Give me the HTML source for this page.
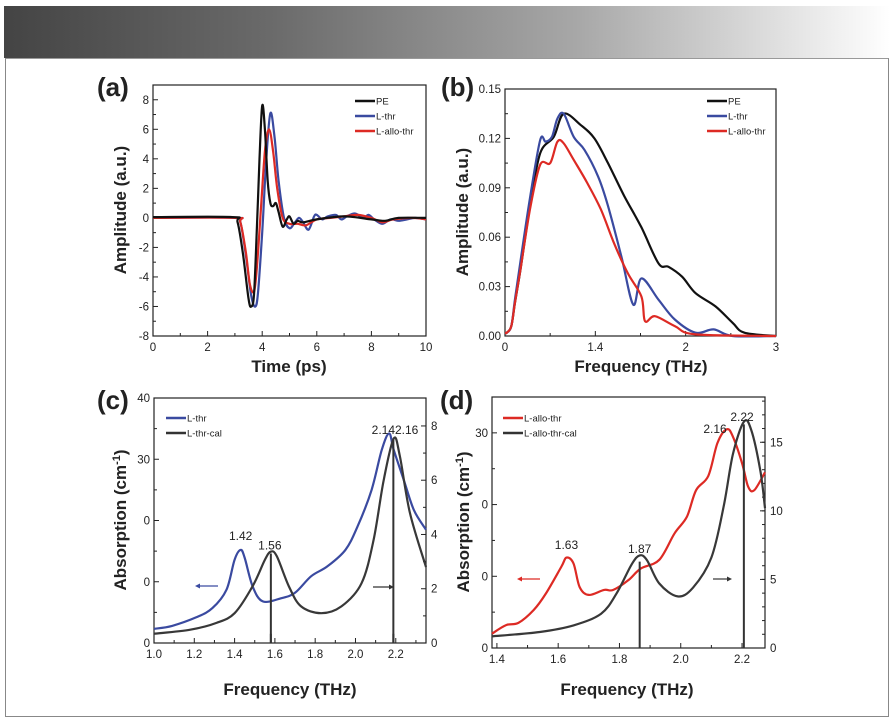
<!DOCTYPE html>
<html><head><meta charset="utf-8"><style>
body{margin:0;background:#fff;width:896px;height:724px;overflow:hidden;font-family:"Liberation Sans",sans-serif}
#hdr{position:absolute;left:4px;top:6px;width:886px;height:52px;background:linear-gradient(90deg,#444 0%,#6a6a6a 30%,#a8a8a8 65%,#fff 100%)}
#frame{position:absolute;left:5px;top:58px;width:882px;height:657px;border:1px solid #888;border-top:1px solid #999}
svg{position:absolute;left:0;top:0}
</style></head><body>
<div id="hdr"></div>
<div id="frame"></div>
<svg id="fig" width="896" height="724"></svg>
<script>
// ---- Panel (a) data ----
const aPE_t=[0,2.9,3.1,3.3,3.5,3.6,3.7,3.8,3.9,4.0,4.1,4.2,4.3,4.4,4.5,4.6,4.75,4.9,5.0,5.15,5.3,5.5,6,7,8,8.5,9,10];
const aPE_v=[0.05,0.05,-0.3,-2.5,-5.5,-6,-5.2,-1,4,7.6,6,2.5,1,0.8,1.0,0.4,-0.6,-0.1,0.1,-0.4,-0.2,-0.3,-0.1,0.1,-0.1,-0.2,0,0];
const aLT_t=[0,3.0,3.2,3.4,3.6,3.75,3.85,4.0,4.15,4.3,4.45,4.6,4.8,5.0,5.2,5.35,5.5,5.7,5.9,6.0,6.2,6.4,6.7,6.9,7.1,7.4,7.7,7.9,8.1,8.4,8.7,9.0,9.3,9.6,10];
const aLT_v=[0,0,-0.3,-2.5,-5.3,-6,-5,-1,4,7.1,5.5,2.5,0,-0.7,-0.3,0,-0.3,-0.8,0.1,0.2,-0.1,0.1,0.2,-0.1,0.1,0.3,0,0.2,-0.1,-0.4,-0.1,-0.2,-0.1,0,-0.1];
const aLA_t=[0,3.0,3.2,3.4,3.55,3.7,3.8,3.95,4.1,4.25,4.4,4.55,4.75,5.0,5.3,5.6,6.0,6.5,7.0,7.5,8.0,8.4,8.8,9.5,10];
const aLA_v=[0,0,-0.3,-2.3,-4.5,-5,-3.5,0.5,4.5,6,4.5,2,0,-0.4,-0.4,-0.5,-0.1,0,0.1,0.2,0,-0.3,-0.1,0,-0.1];
const aYTicks=[-8,-6,-4,-2,0,2,4,6,8];
const aXTicks=[0,2,4,6,8,10];
// ---- Panel (b) data ----
const bPE_f=[0,0.02,0.07,0.11,0.17,0.28,0.39,0.54,0.65,0.84,0.99,1.14,1.32,1.51,1.70,1.81,1.96,2.11,2.33,2.52,2.65,3.0];
const bPE_v=[0.002,0.002,0.006,0.02,0.04,0.08,0.111,0.121,0.135,0.128,0.120,0.105,0.085,0.066,0.044,0.042,0.036,0.026,0.018,0.008,0.002,0];
const bLT_f=[0,0.02,0.07,0.11,0.17,0.28,0.39,0.45,0.52,0.58,0.65,0.76,0.88,1.03,1.14,1.29,1.42,1.51,1.70,1.88,2.11,2.31,2.52,3.0];
const bLT_v=[0.002,0.002,0.006,0.022,0.045,0.085,0.119,0.118,0.121,0.132,0.135,0.121,0.113,0.097,0.079,0.048,0.019,0.035,0.022,0.010,0.002,0.004,0,0];
const bLA_f=[0,0.02,0.07,0.11,0.17,0.28,0.39,0.50,0.58,0.65,0.76,0.91,1.06,1.21,1.36,1.51,1.55,1.66,1.88,2.11,3.0];
const bLA_v=[0.002,0.002,0.006,0.02,0.04,0.078,0.104,0.105,0.118,0.117,0.107,0.093,0.077,0.056,0.038,0.024,0.009,0.012,0.006,0.001,0];
const bYTicks=[0,0.03,0.06,0.09,0.12,0.15];
const bYLabels=["0.00","0.03","0.06","0.09","0.12","0.15"];
const bXTicks=[0,1,2,3];
const bXLabels=["0","1.4","2","3"];
// ---- Panel (c) data ----
const cLT_f=[1.0,1.09,1.21,1.29,1.36,1.40,1.43,1.45,1.49,1.54,1.63,1.70,1.78,1.86,1.95,2.01,2.08,2.13,2.167,2.19,2.24,2.29,2.35];
const cLT_v=[2.3,2.8,4.2,5.7,8.7,13.6,15.2,13.9,9.2,6.8,7.3,8.2,10.9,12.5,15.2,19,25,31.5,34.2,31.5,26.6,21.7,18.5];
const cCal_f=[1.0,1.18,1.31,1.40,1.49,1.55,1.58,1.61,1.67,1.73,1.83,1.93,2.03,2.09,2.14,2.19,2.22,2.27,2.35];
const cCal_v=[0.34,0.49,0.74,1.1,2.1,3.06,3.37,3.19,2.08,1.35,1.1,1.35,2.2,3.8,6.0,7.54,6.9,4.8,2.8];
const cPeaks=[1.58,2.188];
const cLeftTicks=[0,10,20,30,40];
const cLeftLabels=["0","0","0","30","40"];
const cRightTicks=[0,2,4,6,8];
const cXTicks=[1.0,1.2,1.4,1.6,1.8,2.0,2.2];
// ---- Panel (d) data ----
const dLA_f=[1.384,1.43,1.47,1.52,1.56,1.61,1.627,1.65,1.67,1.70,1.75,1.78,1.83,1.87,1.93,1.98,2.02,2.05,2.09,2.12,2.15,2.17,2.20,2.22,2.24,2.275];
const dLA_v=[2.0,3.2,3.5,5.3,7.6,11.3,12.6,11.8,8.5,7.4,8.1,8.1,9.5,11.1,12.3,16,18.3,22,24,28.6,30.5,29.5,25.8,22.5,22,24.5];
const dCal_f=[1.384,1.54,1.65,1.74,1.79,1.84,1.866,1.89,1.93,1.99,2.04,2.10,2.14,2.17,2.206,2.23,2.26,2.275];
const dCal_v=[0.85,1.17,1.65,2.5,3.96,6.1,6.75,6.4,4.7,3.76,4.4,6.6,10.3,14.1,16.5,15.9,12.9,10.2];
const dPeaks=[1.866,2.206];
const dLeftTicks=[0,10,20,30];
const dLeftLabels=["0","0","0","30"];
const dRightTicks=[0,5,10,15];
const dXTicks=[1.4,1.6,1.8,2.0,2.2];

const NS="http://www.w3.org/2000/svg";
const svg=document.getElementById('fig');
function mk(tag,attrs,parent,txt){const e=document.createElementNS(NS,tag);for(const k in attrs)e.setAttribute(k,attrs[k]);if(txt!==undefined)e.textContent=txt;(parent||svg).appendChild(e);return e;}
function lin(d0,d1,r0,r1){return v=>r0+(v-d0)*(r1-r0)/(d1-d0);}
function smooth(xs,ys,sx,sy){const p=xs.map((x,i)=>[sx(x),sy(ys[i])]);let d='M'+p[0][0].toFixed(1)+','+p[0][1].toFixed(1);
 for(let i=0;i<p.length-1;i++){const p0=p[Math.max(0,i-1)],p1=p[i],p2=p[i+1],p3=p[Math.min(p.length-1,i+2)];
 const c1=[p1[0]+(p2[0]-p0[0])/6,p1[1]+(p2[1]-p0[1])/6],c2=[p2[0]-(p3[0]-p1[0])/6,p2[1]-(p3[1]-p1[1])/6];
 d+=' C'+c1.map(v=>v.toFixed(1))+' '+c2.map(v=>v.toFixed(1))+' '+p2.map(v=>v.toFixed(1));}return d;}
function frame(g,x0,y0,x1,y1){mk('rect',{x:x0,y:y0,width:x1-x0,height:y1-y0,fill:'none',stroke:'#222','stroke-width':1.2},g);}
function xAxis(g,ticks,labels,sx,y1,minor){ticks.forEach((t,i)=>{const x=sx(t);mk('line',{x1:x,x2:x,y1:y1,y2:y1-5,stroke:'#222'},g);
 const tx=mk('text',{x:x,y:y1+15,'font-size':11.5,'text-anchor':'middle',fill:'#222'},g,labels?labels[i]:String(t));
 });
 if(minor)minor.forEach(t=>{const x=sx(t);mk('line',{x1:x,x2:x,y1:y1,y2:y1-3,stroke:'#222'},g);});}
function yAxis(g,ticks,labels,sy,x0,side,minor){ticks.forEach((t,i)=>{const y=sy(t);const dir=side==='left'?1:-1;
 mk('line',{x1:x0,x2:x0+dir*5,y1:y,y2:y,stroke:'#222'},g);
 const tx=mk('text',{x:side==='left'?x0-4:x0+5,y:y+4,'font-size':11.5,'text-anchor':side==='left'?'end':'start',fill:'#222'},g,labels?labels[i]:String(t));
 });
 if(minor)minor.forEach(t=>{const y=sy(t);const dir=side==='left'?1:-1;mk('line',{x1:x0,x2:x0+dir*3,y1:y,y2:y,stroke:'#222'},g);});}
function series(g,xs,ys,sx,sy,col,name){const p=mk('path',{d:smooth(xs,ys,sx,sy),fill:'none',stroke:col,'stroke-width':2.2,'stroke-linejoin':'round'},g);
 return p;}
function legend(g,x,y,items,gap){items.forEach((it,i)=>{const yy=y+i*gap;mk('line',{x1:x,x2:x+20,y1:yy,y2:yy,stroke:it[1],'stroke-width':2.5},g);
 const t=mk('text',{x:x+21,y:yy+3.5,'font-size':9.5,fill:'#222'},g,it[0]);});}
function title(g,x,y,txt,rot,size){const t=mk('text',{x:x,y:y,'font-size':size||17,'font-weight':'bold','text-anchor':'middle',fill:'#222',transform:rot?`rotate(-90 ${x} ${y})`:''},g,txt);return t;}
function range(a,b,s){const r=[];for(let v=a;v<=b+1e-9;v+=s)r.push(+v.toFixed(4));return r;}
const BLUE='#3a4aa0',RED='#dd2a24',BLK='#111',GRY='#333';

// Panel a
{const g=mk('g',{});
 const X0=153,X1=426,Y0=85,Y1=336;const sx=lin(0,10,X0,X1),sy=lin(-8,9.0,Y1,Y0);
 mk('text',{x:97,y:96,'font-size':26,'font-weight':'bold',fill:'#222'},g,'(a)');
 frame(g,X0,Y0,X1,Y1);
 xAxis(g,aXTicks,null,sx,Y1,range(1,9,2));yAxis(g,aYTicks,null,sy,X0,'left',range(-7,7,2));
 series(g,aLT_t,aLT_v,sx,sy,BLUE,'l-thr-line');series(g,aLA_t,aLA_v,sx,sy,RED,'l-allo-thr-line');series(g,aPE_t,aPE_v,sx,sy,BLK,'pe-line');
 legend(g,355,101,[['PE',BLK],['L-thr',BLUE],['L-allo-thr',RED]],15);
 title(g,289,372,'Time (ps)');const yt=title(g,126,210,'Amplitude (a.u.)',true);}
// Panel b
{const g=mk('g',{});
 const X0=505,X1=776,Y0=89,Y1=336;const sx=lin(0,3,X0,X1),sy=lin(0,0.15,Y1,Y0);
 mk('text',{x:441,y:96,'font-size':26,'font-weight':'bold',fill:'#222'},g,'(b)');
 frame(g,X0,Y0,X1,Y1);
 xAxis(g,bXTicks,bXLabels,sx,Y1,[0.5,1.5,2.5]);yAxis(g,bYTicks,bYLabels,sy,X0,'left',[0.015,0.045,0.075,0.105,0.135]);
 series(g,bPE_f,bPE_v,sx,sy,BLK,'pe-line');series(g,bLT_f,bLT_v,sx,sy,BLUE,'l-thr-line');series(g,bLA_f,bLA_v,sx,sy,RED,'l-allo-thr-line');
 legend(g,707,101,[['PE',BLK],['L-thr',BLUE],['L-allo-thr',RED]],15);
 title(g,641,372,'Frequency (THz)');title(g,468,212,'Amplitude (a.u.)',true);}
// Panel c
{const g=mk('g',{});
 const X0=154,X1=426,Y0=398,Y1=643;const sx=lin(1.0,2.35,X0,X1),syL=lin(0,40,Y1,Y0),syR=lin(0,9.03,Y1,Y0);
 mk('text',{x:97,y:409,'font-size':26,'font-weight':'bold',fill:'#222'},g,'(c)');
 frame(g,X0,Y0,X1,Y1);
 xAxis(g,cXTicks,cXTicks.map(v=>v.toFixed(1)),sx,Y1,range(1.1,2.3,0.2));
 yAxis(g,cLeftTicks,cLeftLabels,syL,X0,'left',range(5,35,10));yAxis(g,cRightTicks,null,syR,X1,'right',range(1,7,2));
 cPeaks.forEach(f=>{const l=mk('line',{x1:sx(f),x2:sx(f),y1:Y1,y2:syR(cCal_v[0])-0,stroke:GRY,'stroke-width':2},g);});
 // vertical peak lines up to curve
 series(g,cLT_f,cLT_v,sx,syL,BLUE,'l-thr-line');series(g,cCal_f,cCal_v,sx,syR,'#383838','l-thr-cal-line');
 mk('line',{x1:sx(cPeaks[0]),x2:sx(cPeaks[0]),y1:Y1,y2:syR(3.3),stroke:GRY,'stroke-width':2},g);
 mk('line',{x1:sx(cPeaks[1]),x2:sx(cPeaks[1]),y1:Y1,y2:syR(7.5),stroke:GRY,'stroke-width':2},g);
 [['1.42',1.43,15.2],['1.56',1.575,13.6]].forEach(a=>mk('text',{x:sx(a[1]),y:syL(a[2])-10,'font-size':12,'text-anchor':'middle',fill:'#222'},g,a[0]));
 mk('text',{x:395,y:434,'font-size':12,'text-anchor':'end',fill:'#222'},g,'2.14');mk('text',{x:395,y:434,'font-size':12,fill:'#222'},g,'2.16');
 mk('line',{x1:218,x2:198,y1:586,y2:586,stroke:BLUE,'stroke-width':1.2},g);mk('path',{d:'M195,586 l5,-2.5 v5z',fill:BLUE},g);
 mk('line',{x1:373,x2:390,y1:587,y2:587,stroke:GRY,'stroke-width':1.2},g);mk('path',{d:'M394,587 l-5,-2.5 v5z',fill:GRY},g);
 legend(g,166,418,[['L-thr',BLUE],['L-thr-cal',GRY]],15);
 title(g,290,695,'Frequency (THz)');
 const yt=mk('text',{x:126,y:520,'font-size':17,'font-weight':'bold','text-anchor':'middle',fill:'#222',transform:'rotate(-90 126 520)'},g);
 yt.innerHTML='Absorption (cm<tspan font-size="11" dy="-6">-1</tspan><tspan dy="6">)</tspan>';}
// Panel d
{const g=mk('g',{});
 const X0=492,X1=765,Y0=397,Y1=648;const sx=lin(1.384,2.275,X0,X1),syL=lin(0,35,Y1,Y0),syR=lin(0,18.3,Y1,Y0);
 mk('text',{x:440,y:409,'font-size':26,'font-weight':'bold',fill:'#222'},g,'(d)');
 frame(g,X0,Y0,X1,Y1);
 xAxis(g,dXTicks,dXTicks.map(v=>v.toFixed(1)),sx,Y1,range(1.5,2.1,0.2));
 yAxis(g,dLeftTicks,dLeftLabels,syL,X0,'left',range(5,35,10));yAxis(g,dRightTicks,null,syR,X1,'right',range(1,18,1));
 series(g,dLA_f,dLA_v,sx,syL,RED,'l-allo-thr-line');series(g,dCal_f,dCal_v,sx,syR,'#383838','l-allo-thr-cal-line');
 mk('line',{x1:sx(dPeaks[0]),x2:sx(dPeaks[0]),y1:Y1,y2:syR(6.3),stroke:GRY,'stroke-width':2},g);
 mk('line',{x1:sx(dPeaks[1]),x2:sx(dPeaks[1]),y1:Y1,y2:syR(16.3),stroke:GRY,'stroke-width':2},g);
 mk('text',{x:sx(1.627),y:549,'font-size':12,'text-anchor':'middle',fill:'#222'},g,'1.63');
 mk('text',{x:sx(1.866),y:553,'font-size':12,'text-anchor':'middle',fill:'#222'},g,'1.87');
 mk('text',{x:715,y:433,'font-size':12,'text-anchor':'middle',fill:'#222'},g,'2.16');
 mk('text',{x:742,y:421,'font-size':12,'text-anchor':'middle',fill:'#222'},g,'2.22');
 mk('line',{x1:540,x2:521,y1:579,y2:579,stroke:RED,'stroke-width':1.2},g);mk('path',{d:'M517,579 l5,-2.5 v5z',fill:RED},g);
 mk('line',{x1:713,x2:728,y1:579,y2:579,stroke:GRY,'stroke-width':1.2},g);mk('path',{d:'M732,579 l-5,-2.5 v5z',fill:GRY},g);
 legend(g,503,418,[['L-allo-thr',RED],['L-allo-thr-cal',GRY]],15);
 title(g,627,695,'Frequency (THz)');
 const yt=mk('text',{x:469,y:522,'font-size':17,'font-weight':'bold','text-anchor':'middle',fill:'#222',transform:'rotate(-90 469 522)'},g);
 yt.innerHTML='Absorption (cm<tspan font-size="11" dy="-6">-1</tspan><tspan dy="6">)</tspan>';}
</script>
</body></html>
